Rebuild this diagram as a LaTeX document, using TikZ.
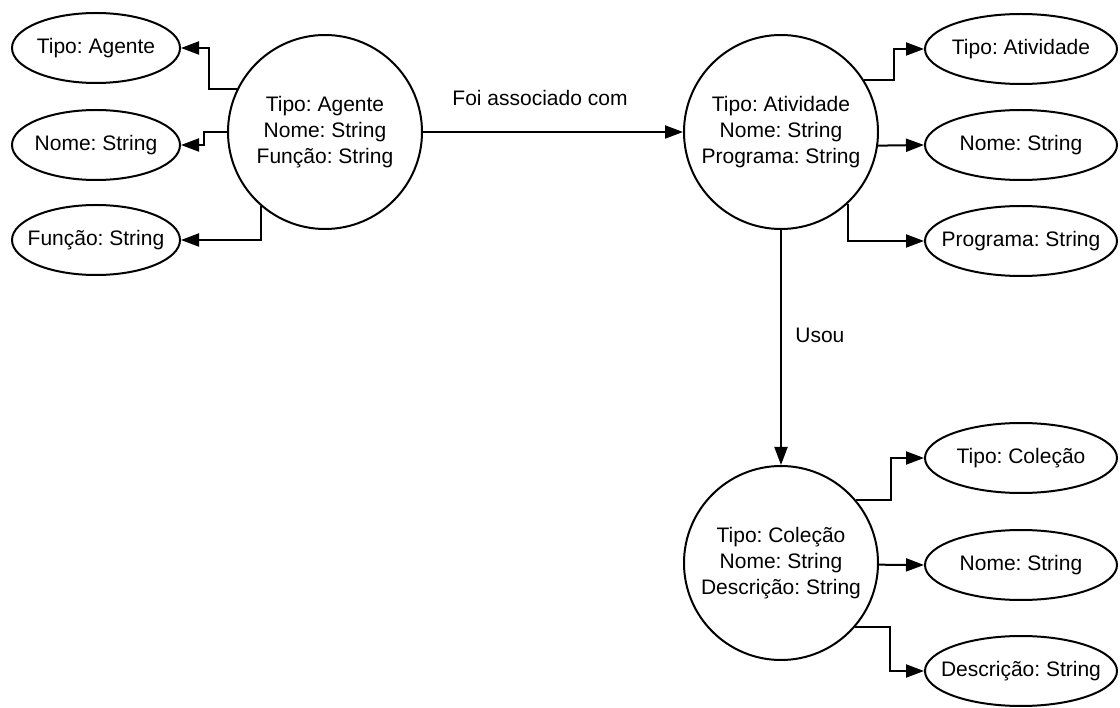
\documentclass[tikz,border=0pt]{standalone}
\usepackage{fontspec}
\setmainfont{Liberation Sans}
\frenchspacing
\usetikzlibrary{arrows.meta,shapes.geometric}
\begin{document}
\begin{tikzpicture}[x=1pt,y=-1pt,
  lbl/.style={font=\fontsize{21}{26}\selectfont},
  entity/.style={lbl, circle, draw, line width=2pt, minimum size=194pt,
                 inner sep=0pt, align=center},
  % fixed-size ellipse; the text sits on it as a centred label
  attrL/.style={ellipse, draw, line width=2pt, minimum width=168pt,
                minimum height=70pt, inner sep=0pt,
                label={[lbl]center:#1}},
  attrR/.style={attrL=#1, minimum width=192pt},
  link/.style={line width=2pt, -{Triangle[length=18pt,width=13pt]}},
]
\useasboundingbox (0,0) rectangle (1120,708);

% entities
\node[entity] (ag)  at (325,132) {Tipo: Agente\\Nome: String\\Função: String};
\node[entity] (at)  at (781,132) {Tipo: Atividade\\Nome: String\\Programa: String};
\node[entity] (col) at (781,563) {Tipo: Coleção\\Nome: String\\Descrição: String};

% attributes of the agent
\node[attrL={Tipo: Agente}]   (ta) at (96,48)  {};
\node[attrL={Nome: String}]   (na) at (96,145) {};
\node[attrL={Função: String}] (fa) at (96,240) {};

% attributes of the activity
\node[attrR={Tipo: Atividade}]  (tt) at (1021,49)  {};
\node[attrR={Nome: String}]     (nt) at (1021,145) {};
\node[attrR={Programa: String}] (pt) at (1021,241) {};

% attributes of the collection
\node[attrR={Tipo: Coleção}]     (tc) at (1021,458) {};
\node[attrR={Nome: String}]      (nc) at (1021,565) {};
\node[attrR={Descrição: String}] (dc) at (1021,671) {};

% relations
\draw[link] (ag.east) -- node[lbl, pos=0.45, above=22pt] {Foi associado com} (at.west);
\draw[link] (at.south) -- node[lbl, pos=0.45, right=10pt] {Usou} (col.north);

% agent attribute links
\draw[link] (ag.154) -- ++(-28,0) |- (ta.east);
\draw[link] (ag.west) -- ++(-23,0) |- (na.east);
\draw[link] (ag.229) |- (fa.east);

% activity attribute links
\draw[link] (at.32) -- ++(30,0) |- (tt.west);
\draw[link] (at.-8) -- (nt.west);
\draw[link] (at.-47) |- (pt.west);

% collection attribute links
\draw[link] (col.40) -- ++(35,0) |- (tc.west);
\draw[link] (col.-1) -- (nc.west);
\draw[link] (col.-41) -- ++(35,0) |- (dc.west);
\end{tikzpicture}
\end{document}
